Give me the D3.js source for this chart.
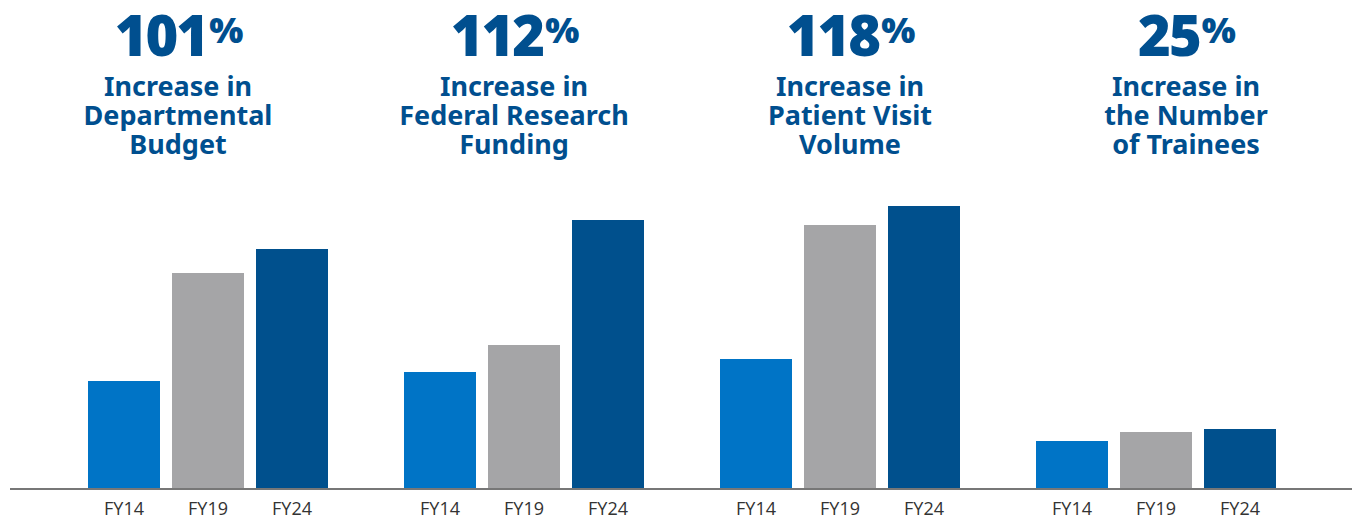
<!DOCTYPE html>
<html>
<head>
<meta charset="utf-8">
<script src="https://cdn.jsdelivr.net/npm/d3@7"></script>
<style>
  html, body { margin: 0; padding: 0; background: #fff; }
  #container { width: 1352px; height: 519px; }
</style>
</head>
<body>
<div id="container"></div>
<script>
// 数据（相对高度，从图上读取）
const groups = ["budget", "funding", "visits", "trainees"];
const years = ["FY14", "FY19", "FY24"];
const headlines = ["101", "112", "118", "25"];
const subtitles = [
  ["Increase in", "Departmental", "Budget"],
  ["Increase in", "Federal Research", "Funding"],
  ["Increase in", "Patient Visit", "Volume"],
  ["Increase in", "the Number", "of Trainees"]
];
const fy14 = [108, 117, 130, 48];
const fy19 = [216, 144, 264, 57];
const fy24 = [240, 269, 283, 60];

const colors = ["#0074c6", "#a5a5a7", "#00508d"];
const textColor = "#004f8f";

const width = 1352,
  height = 519,
  baseline = 489;

const svg = d3
  .select("#container")
  .append("svg")
  .attr("width", width)
  .attr("height", height)
  .attr("viewBox", [0, 0, width, height]);

// 比例尺
const x0 = d3.scaleBand(groups, [50, 1314]);
const x1 = d3.scaleBand(years, [38, 278]).paddingInner(1 / 7);
const xText = d3.scaleBand(groups, [10, 1354]);
const y = d3.scaleLinear([0, 300], [baseline, baseline - 300]);

const series = [fy14, fy19, fy24];

// 柱子
const g = svg
  .selectAll("g.group")
  .data(groups)
  .join("g")
  .attr("class", "group")
  .attr("transform", (d) => `translate(${x0(d)},0)`);

g.selectAll("rect")
  .data((d, i) => years.map((yr, j) => ({ yr, v: series[j][i], j })))
  .join("rect")
  .attr("x", (d) => x1(d.yr))
  .attr("width", x1.bandwidth())
  .attr("y", (d) => y(d.v))
  .attr("height", (d) => y(0) - y(d.v))
  .attr("fill", (d) => colors[d.j]);

// 横轴
const xAxis = d3.axisBottom(x1).tickSize(0).tickPadding(13);
g.append("g")
  .attr("transform", `translate(0,${baseline})`)
  .call(xAxis)
  .call((a) => a.select(".domain").remove())
  .call((a) =>
    a
      .selectAll("text")
      .attr("font-family", "'Open Sans', 'Noto Sans', sans-serif")
      .attr("font-weight", 400)
      .attr("font-size", 18)
      .attr("fill", "#333")
  );

svg
  .append("line")
  .attr("x1", 10)
  .attr("x2", width)
  .attr("y1", baseline)
  .attr("y2", baseline)
  .attr("stroke", "#777")
  .attr("stroke-width", 2);

// 标题
const head = svg
  .selectAll("g.head")
  .data(groups)
  .join("g")
  .attr("class", "head")
  .attr("transform", (d) => `translate(${xText(d) + xText.bandwidth() / 2},0)`)
  .attr("fill", textColor)
  .attr("text-anchor", "middle");

const big = head
  .append("text")
  .attr("y", 56)
  .attr("font-family", "'Noto Sans', sans-serif")
  .attr("font-weight", 900)
  .attr("font-size", 56)
  .attr("letter-spacing", -2);
big.append("tspan").text((d, i) => headlines[i]);
big
  .append("tspan")
  .attr("font-size", 36)
  .attr("baseline-shift", 13)
  .attr("dx", 2)
  .text("%");

head
  .selectAll("text.sub")
  .data((d, i) => subtitles[i])
  .join("text")
  .attr("class", "sub")
  .attr("y", (d, i) => 96 + i * 29)
  .attr("font-family", "'Noto Sans', sans-serif")
  .attr("font-weight", 700)
  .attr("font-size", 27)
  .text((d) => d);
</script>
</body>
</html>
